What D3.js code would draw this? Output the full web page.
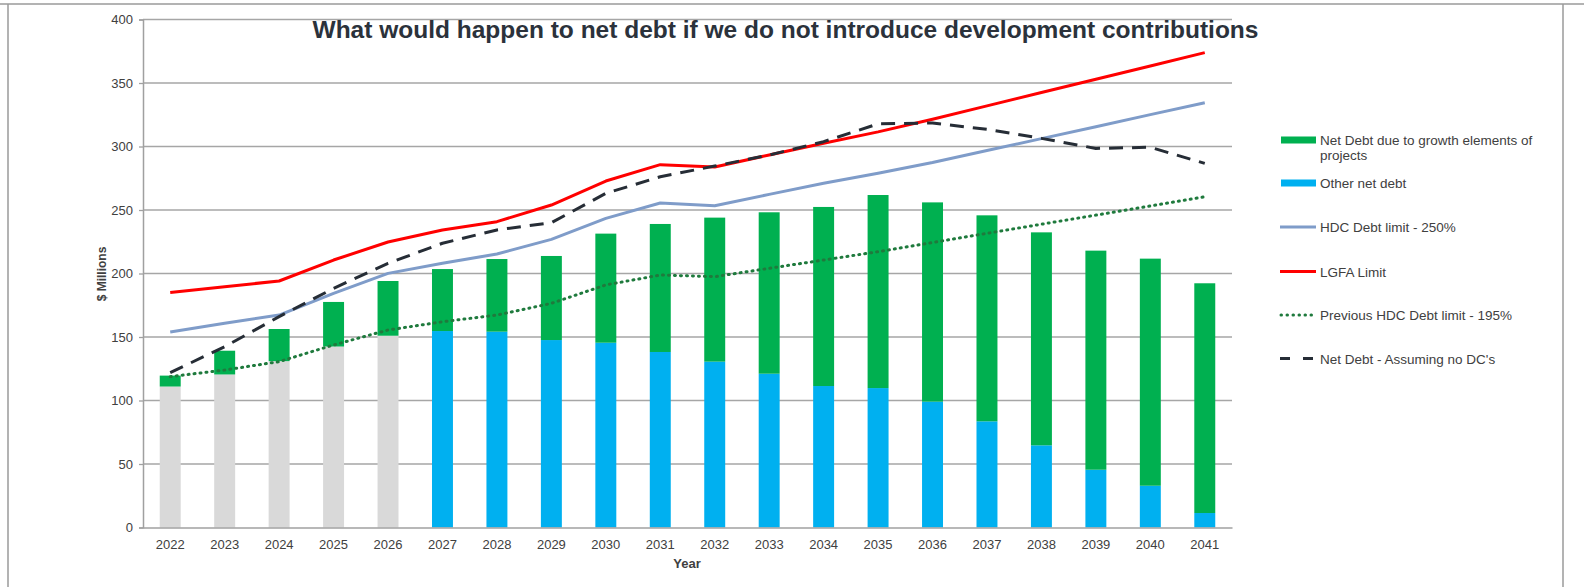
<!DOCTYPE html>
<html>
<head>
<meta charset="utf-8">
<script src="https://cdn.jsdelivr.net/npm/d3@7"></script>
<style>
  html, body { margin: 0; padding: 0; background: #fff; }
  svg { display: block; font-family: "Liberation Sans", Arial, sans-serif; }
</style>
</head>
<body>
<script>
'use strict';

// chart data ($ millions)
const years = [2022, 2023, 2024, 2025, 2026, 2027, 2028, 2029, 2030, 2031,
               2032, 2033, 2034, 2035, 2036, 2037, 2038, 2039, 2040, 2041];
const otherDebt = [111, 120.5, 131, 142.5, 151, 154.7, 154.2, 147.6, 145.5, 138.2,
                   130.6, 121.1, 111.4, 109.8, 99.1, 83.6, 64.7, 45.5, 32.9, 11.4];
const growthDebt = [8.6, 18.7, 25.3, 35.1, 43.1, 48.8, 57.2, 66.2, 85.9, 100.8,
                    113.4, 127.1, 141.0, 152.0, 156.9, 162.2, 167.7, 172.5, 178.8, 180.9];
const hdcLimit250 = [154, 160.8, 167.3, 184.4, 200.1, 208, 215.4, 226.9, 243.4, 255.5,
                     253.4, 262.3, 271, 279, 287.4, 296.8, 306.2, 315.6, 325.1, 334.5];
const lgfaLimit = [185, 189.6, 194.1, 210.6, 224.8, 234.2, 240.8, 253.9, 272.8, 285.7,
                   283.9, 293.3, 302.5, 311.5, 321.5, 332, 342.5, 352.9, 363.4, 373.9];
const hdcLimit195 = [118.8, 124, 130.6, 143.7, 155.5, 162, 167.3, 176.5, 191, 198.8,
                     197.5, 204.1, 210.6, 217.2, 224.4, 231.6, 238.8, 246, 253.2, 260.4];
const netDebtNoDC = [121.9, 142.4, 166, 188.3, 208, 223.8, 234.3, 240, 263.1, 276.2,
                     284.6, 293.3, 303.8, 317.8, 318.5, 313.5, 306.4, 298.5, 299.4, 286.7];
const yTicks = [0, 50, 100, 150, 200, 250, 300, 350, 400];
const firstForecastYear = 2027; // earlier "other" bars are drawn grey

const W = 1584, H = 587;
const svg = d3.select('body').append('svg')
  .attr('width', W)
  .attr('height', H);

// outer frame
svg.append('line').attr('x1', 0).attr('x2', W).attr('y1', 4).attr('y2', 4)
  .attr('stroke', '#9a9a9a').attr('stroke-width', 1.5);
svg.append('line').attr('x1', 8).attr('x2', 8).attr('y1', 4).attr('y2', H)
  .attr('stroke', '#9a9a9a').attr('stroke-width', 1.5);
svg.append('line').attr('x1', 1563).attr('x2', 1563).attr('y1', 4).attr('y2', H)
  .attr('stroke', '#9a9a9a').attr('stroke-width', 1.5);

const x = d3.scaleBand()
  .domain(years)
  .range([143, 1232])
  .paddingInner(0.615)
  .paddingOuter(0.3075);

const y = d3.scaleLinear()
  .domain([0, 400])
  .range([527.5, 19.5]);

const cx = (i) => x(years[i]) + x.bandwidth() / 2;

// gridlines
svg.append('g')
  .selectAll('line')
  .data(yTicks.filter((t) => t > 0))
  .enter()
  .append('line')
    .attr('x1', 143)
    .attr('x2', 1232)
    .attr('y1', (d) => y(d))
    .attr('y2', (d) => y(d))
    .attr('stroke', '#a6a6a6')
    .attr('stroke-width', 1.3);

// stacked bars
const bars = svg.append('g');
bars.selectAll('.other')
  .data(years)
  .enter()
  .append('rect')
    .attr('x', (d) => x(d))
    .attr('width', x.bandwidth())
    .attr('y', (d, i) => y(otherDebt[i]))
    .attr('height', (d, i) => y(0) - y(otherDebt[i]))
    .attr('fill', (d) => d < firstForecastYear ? '#d9d9d9' : '#00b0f0');
bars.selectAll('.growth')
  .data(years)
  .enter()
  .append('rect')
    .attr('x', (d) => x(d))
    .attr('width', x.bandwidth())
    .attr('y', (d, i) => y(otherDebt[i] + growthDebt[i]))
    .attr('height', (d, i) => y(otherDebt[i]) - y(otherDebt[i] + growthDebt[i]))
    .attr('fill', '#00b050');

// lines
const line = d3.line()
  .x((d, i) => cx(i))
  .y((d) => y(d));

function drawLine(values, color, width, dash) {
  svg.append('path')
    .datum(values)
    .attr('d', line)
    .attr('fill', 'none')
    .attr('stroke', color)
    .attr('stroke-width', width)
    .attr('stroke-linejoin', 'round')
    .attr('stroke-linecap', dash === '1 5' ? 'round' : 'butt')
    .attr('stroke-dasharray', dash || null);
}
drawLine(hdcLimit250, '#7f9cc9', 3);
drawLine(lgfaLimit, '#ff0000', 3);
drawLine(hdcLimit195, '#1f7a3d', 3, '1 5');
drawLine(netDebtNoDC, '#262d36', 3, '14 9');

// axes
const yAxis = d3.axisLeft(y).tickValues(yTicks).tickSize(4).tickPadding(6);
const yG = svg.append('g')
  .attr('transform', 'translate(143,0)')
  .call(yAxis);
const xAxis = d3.axisBottom(x).tickSize(0).tickPadding(12);
const xG = svg.append('g')
  .attr('transform', 'translate(0,527.5)')
  .call(xAxis);

[yG, xG].forEach((g) => {
  g.select('.domain').attr('stroke', '#a0a0a0').attr('stroke-width', 1.5);
  g.selectAll('.tick line').attr('stroke', '#a0a0a0').attr('stroke-width', 1.3);
  g.selectAll('.tick text')
    .attr('fill', '#404040')
    .style('font-size', '13px')
    .style('font-family', '"Liberation Sans", Arial, sans-serif');
});

// axis titles
svg.append('text')
  .attr('transform', 'translate(106, 274)rotate(-90)')
  .attr('text-anchor', 'middle')
  .attr('fill', '#404040')
  .style('font-size', '12px')
  .style('font-weight', 'bold')
  .text('$ Millions');

svg.append('text')
  .attr('x', 687)
  .attr('y', 568)
  .attr('text-anchor', 'middle')
  .attr('fill', '#404040')
  .style('font-size', '13px')
  .style('font-weight', 'bold')
  .text('Year');

// chart title
svg.append('text')
  .attr('x', 785.5)
  .attr('y', 38)
  .attr('text-anchor', 'middle')
  .attr('fill', '#2b323b')
  .style('font-size', '24.5px')
  .style('font-weight', 'bold')
  .text('What would happen to net debt if we do not introduce development contributions');

// legend
const legendItems = [
  { lines: ['Net Debt due to growth elements of', 'projects'], color: '#00b050', type: 'bar', y: 140 },
  { lines: ['Other net debt'], color: '#00b0f0', type: 'bar', y: 183 },
  { lines: ['HDC Debt limit  - 250%'], color: '#7f9cc9', type: 'line', y: 227 },
  { lines: ['LGFA Limit'], color: '#ff0000', type: 'line', y: 271.5 },
  { lines: ['Previous HDC Debt limit - 195%'], color: '#1f7a3d', type: 'dot', y: 315 },
  { lines: ["Net Debt - Assuming no DC's"], color: '#262d36', type: 'dash', y: 358.5 }
];

const legend = svg.append('g');
legendItems.forEach((item) => {
  if (item.type === 'bar') {
    legend.append('rect')
      .attr('x', 1281).attr('y', item.y - 3.5)
      .attr('width', 35).attr('height', 7)
      .attr('fill', item.color);
  } else {
    legend.append('line')
      .attr('x1', item.type === 'dot' ? 1281 : 1280)
      .attr('x2', 1316)
      .attr('y1', item.y).attr('y2', item.y)
      .attr('stroke', item.color)
      .attr('stroke-width', 3)
      .attr('stroke-linecap', item.type === 'dot' ? 'round' : 'butt')
      .attr('stroke-dasharray', item.type === 'dot' ? '0.5 5.5' : item.type === 'dash' ? '10 13' : null);
  }
  item.lines.forEach((t, k) => {
    legend.append('text')
      .attr('x', 1320)
      .attr('y', item.y + 5 + k * 15)
      .attr('fill', '#404040')
      .style('font-size', '13.5px')
      .text(t);
  });
});
</script>
</body>
</html>
